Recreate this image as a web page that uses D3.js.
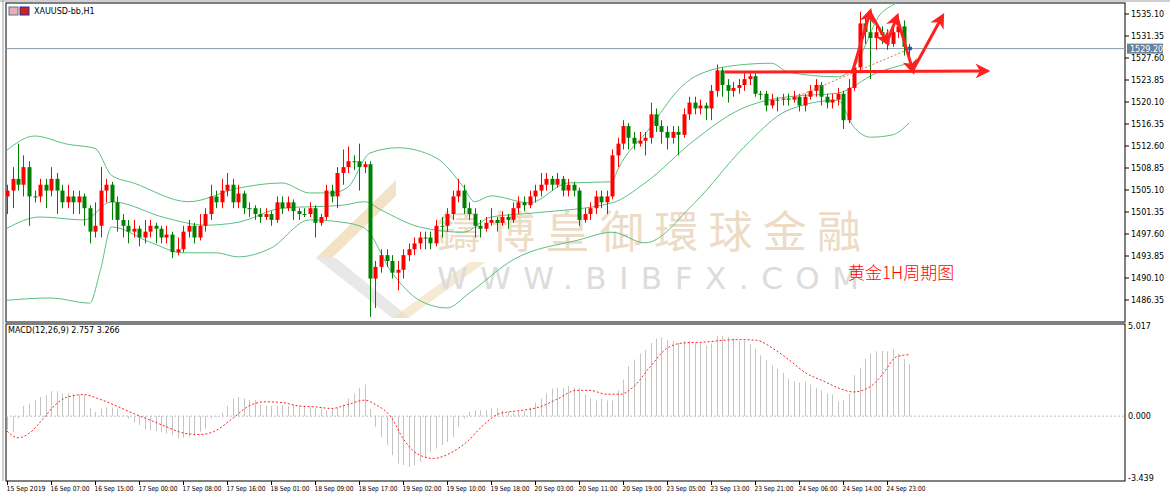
<!DOCTYPE html>
<html>
<head>
<meta charset="utf-8">
<script src="https://cdn.jsdelivr.net/npm/d3@7"></script>
<style>
  body { margin: 0; background: #fff; }
  svg { display: block; font-family: Tahoma, "DejaVu Sans", sans-serif; }
</style>
</head>
<body>
<div id="chart"></div>
<script>
// OHLC per H1 bar: [open, high, low, close]
const candles = [
  [1504,1506,1501,1505],[1505,1509,1502,1507],[1507,1513,1505,1506],[1506,1511,1504,1509],[1509,1510,1499,1504],
  [1504,1505,1503,1504],[1504,1507,1503,1506],[1506,1507,1502,1505],[1505,1509,1504,1507],[1507,1508,1501,1505],
  [1505,1506,1502,1503],[1503,1506,1502,1504],[1504,1505,1501,1503],[1503,1505,1501,1504],[1504,1504.5,1499,1502],
  [1502,1502.5,1496,1498],[1498,1503,1497,1499],[1499,1509,1497,1505],[1505,1507,1503,1506],[1506,1506.5,1500,1503],
  [1503,1504,1498,1500],[1500,1501,1497,1499],[1499,1500,1496,1498],[1498,1500,1497,1498.5],[1498.5,1499,1495.5,1497],
  [1497,1500,1496,1498],[1498,1500,1497,1499],[1499,1499.5,1496,1498.5],[1498.5,1499,1496,1497],[1497,1499,1496,1497.5],
  [1497.5,1498,1493.5,1494.5],[1494.5,1497,1494,1495],[1495,1499,1494.5,1498],[1498,1500,1497,1499],[1499,1499.5,1496,1497],
  [1497,1501,1496.5,1499],[1499,1502,1498,1501],[1501,1506,1500,1504],[1504,1505,1502,1503],[1503,1507,1502,1505],
  [1505,1508,1504,1506],[1506,1507,1502,1503],[1503,1506,1502,1504.5],[1504.5,1505,1501,1502],[1502,1503,1500.5,1502],
  [1502,1502.5,1500,1501],[1501,1502,1499.5,1500.5],[1500.5,1502,1500,1501],[1501,1501.5,1499,1500],[1500,1504,1499.5,1503],
  [1503,1504,1501,1502],[1502,1504,1501.5,1503],[1503,1503.5,1500,1501.5],[1501.5,1502,1500,1501],[1501,1502,1500.5,1501],
  [1501,1503,1500.5,1502],[1502,1502.5,1497,1499.5],[1499.5,1501,1499,1500.5],[1500.5,1506,1500,1505],[1505,1506,1503,1504],
  [1504,1509,1502,1508],[1508,1512,1506,1509],[1509,1512.5,1508,1510],[1510,1511,1508.5,1510],[1510,1513,1505,1509],
  [1509,1510,1508,1509.5],[1509.5,1510,1483.5,1490],[1490,1493,1485,1492],[1492,1495,1491,1494],[1494,1495,1492,1493],
  [1493,1494,1490,1491],[1491,1493,1488,1491.5],[1491.5,1495,1490,1494],[1494,1496,1493,1495],[1495,1497,1494,1496],
  [1496,1498,1495,1497],[1497,1498,1495,1497],[1497,1498,1495,1496],[1496,1500,1495.5,1499],[1499,1500.5,1497,1499],
  [1499,1502,1498,1501],[1501,1505,1500,1504],[1504,1507,1503,1505],[1505,1506,1501,1502],[1502,1503,1500,1501],
  [1501,1502,1497,1499],[1499,1500,1497,1498.5],[1498.5,1500.5,1498,1499.5],[1499.5,1502,1499,1500],[1500,1500.5,1498,1499.5],
  [1499.5,1501.5,1499,1500.5],[1500.5,1501,1498.5,1500],[1500,1503,1499.5,1502],[1502,1504,1501,1503],[1503,1504,1501.5,1502.5],
  [1502.5,1505,1502,1504],[1504,1506,1503,1505],[1505,1508,1504,1506],[1506,1508,1505,1507],[1507,1507.5,1505,1506],
  [1506,1508,1505.5,1507],[1507,1507.5,1504,1505],[1505,1507,1504,1506],[1506,1506.5,1504,1505],[1505,1505.5,1499,1500],
  [1500,1502,1499.5,1501],[1501,1503,1500,1502],[1502,1505,1501,1504],[1504,1505,1502,1503],[1503,1505,1501,1504],
  [1504,1512,1503.5,1511],[1511,1514,1509,1513],[1513,1517,1512,1516],[1516,1516.5,1512,1514],[1514,1515,1512,1513],
  [1513,1515,1512.5,1513.5],[1513.5,1515,1511,1514],[1514,1520,1513,1518],[1518,1519,1515,1516],[1516,1517,1513,1515],
  [1515,1516,1512,1514],[1514,1516,1513,1515],[1515,1516,1511,1514.5],[1514.5,1519,1514,1518],[1518,1521,1517,1520],
  [1520,1521,1518,1519],[1519,1520.5,1518,1519.5],[1519.5,1520,1517,1519],[1519,1523,1517,1522],[1522,1526.5,1521,1525.5],
  [1525.5,1526,1521,1523],[1523,1524,1520,1522],[1522,1523.5,1521,1522.5],[1522.5,1524,1521.5,1523],[1523,1525,1522,1524],
  [1524,1525,1523,1524.5],[1524.5,1525,1521,1521.5],[1521.5,1522,1520.5,1521.5],[1521.5,1522,1518.5,1519.5],[1519.5,1521.5,1519,1520.5],
  [1520.5,1521,1518.5,1520.5],[1520.5,1521.5,1519.5,1520.7],[1520.7,1521.5,1519.5,1520.5],[1520.5,1522,1520,1521],[1521,1521.5,1518.5,1519.5],
  [1519.5,1521.5,1518.5,1521],[1521,1523,1520.5,1522],[1522,1524,1521,1523],[1523,1523.5,1519.5,1521],[1521,1521.5,1519,1520],
  [1520,1521.5,1519,1520.5],[1520.5,1522.5,1519.5,1521.5],[1521.5,1522,1515.5,1517],[1517,1524,1516.5,1522.5],[1522.5,1527,1522,1526],
  [1526,1535.5,1525,1533.5],[1533.5,1535,1530,1532],[1532,1534,1524,1531],[1531,1533.5,1529,1532],[1532,1533,1530,1531.5],
  [1531.5,1532.5,1529,1530],[1530,1533,1529.5,1532],[1532,1534.5,1531,1533],[1533,1534,1528,1529.5],[1529.5,1530,1528,1529.2]
];

// Bollinger bands: [bar, price]
const bandUpper = [[0,1511.9],[5,1514.3],[11,1512.9],[16,1512.2],[19,1507.6],[23,1506.3],[33,1503.1],[42,1505.4],
  [50,1506.3],[55,1504.6],[59,1504.6],[62,1505.6],[66,1511.4],[71,1512.3],[78,1510.6],[83,1505.6],[85,1503.1],
  [88,1504.1],[95,1502.9],[102,1506.3],[110,1506.5],[111,1508.5],[117,1515.8],[122,1522.1],[125,1524.4],
  [133,1526.4],[139,1526.7],[142,1525.2],[151,1524.4],[154,1526.1],[159,1535.3],[161,1536.6],[164,1538]];
const bandMiddle = [[0,1498.6],[6,1500.5],[14,1500.0],[19,1503.1],[29,1500.3],[36,1499.1],[42,1499.6],[50,1502.0],
  [61,1502.5],[65,1503.1],[68,1501.7],[75,1498.8],[83,1497.9],[88,1500.5],[96,1501.2],[110,1502.9],[116,1506.3],
  [125,1513.6],[133,1518.7],[142,1521.0],[151,1521.6],[158,1525.0],[164,1526.7]];
const bandLower = [[0,1486.3],[8,1486.7],[15,1485.8],[17,1491.5],[19,1498.8],[26,1496.2],[32,1494.4],[38,1494.4],
  [42,1493.7],[48,1495.2],[55,1500.0],[61,1499.6],[65,1498.6],[70,1491.0],[75,1486.3],[80,1485.0],[84,1487.5],
  [92,1493.2],[104,1496.6],[110,1497.9],[116,1496.1],[125,1502.9],[134,1512.4],[142,1518.7],[151,1520.4],
  [154,1515.8],[157,1514.1],[161,1514.5],[164,1516.5]];

// MACD main (histogram), one per bar
const macdMain = [-0.75,
  -0.87,-0.13,0.57,0.7,0.9,1.07,1.17,1.39,1.39,1.26,1.26,1.2,1.2,1.17,0.46,0.24,0.43,0.48,0.48,0.39,
  0.06,-0.13,-0.35,-0.5,-0.72,-0.78,-0.83,-0.87,-0.96,-1.06,-1.24,-1.2,-1.15,-1.06,-0.87,-0.69,-0.13,-0.04,0.2,0.57,
  0.98,1.07,0.98,0.9,0.9,0.65,0.57,0.57,0.57,0.61,0.57,0.61,0.57,0.57,0.52,0.43,0.43,0.33,0.39,0.46,
  0.65,0.98,1.26,1.57,1.76,0.39,-0.59,-1.15,-1.61,-2.17,-2.63,-2.72,-2.81,-2.72,-2.54,-2.31,-1.98,-1.8,-1.61,-1.43,
  -1.15,-0.59,-0.13,0.24,0.33,0.33,0.33,0.43,0.43,
  0.3,0.24,0.19,0.24,0.3,0.48,0.76,0.98,1.26,1.54,1.59,1.57,1.69,1.59,1.57,1.2,0.98,0.87,0.98,0.87,
  0.87,1.44,2.04,2.78,3.15,3.48,3.67,4.07,4.31,4.37,4.26,4.19,4.07,4.19,4.19,4.07,4.07,3.94,4.04,4.48,
  4.48,4.41,4.33,4.19,4.19,4.0,3.76,3.39,3.11,2.81,2.65,2.41,2.09,1.94,1.87,1.91,1.76,1.57,1.44,1.26,
  1.2,0.81,0.89,1.26,2.28,2.7,3.2,3.48,3.61,3.63,3.61,3.72,3.48,3.17,2.89];
// MACD signal, sampled [bar, value]
const macdSignal = [[0,-0.83],[2,-1.2],[4,-0.96],[6.6,-0.13],[8.7,0.61],[10.8,1.04],[13.9,1.2],[16.9,0.94],
  [19.9,0.57],[23,0.15],[26,-0.22],[29,-0.59],[32,-0.93],[35,-1.02],[37.5,-0.87],[41,-0.13],[44,0.57],[47,0.8],
  [50,0.76],[53,0.57],[56,0.52],[59,0.43],[62,0.65],[65,0.89],[67,0.65],[70,-0.13],[72,-1.24],[74.5,-2.07],
  [77.5,-2.35],[80.5,-2.07],[83.6,-1.43],[86.6,-0.5],[89.6,0.15],[93.8,0.33],[96.9,0.52],[99.9,0.93],
  [103.6,1.44],[106,1.44],[109,1.22],[111.5,1.22],[113.9,1.63],[116.9,2.74],[119.9,3.76],[122.9,4.07],
  [127.2,4.13],[130.2,4.22],[133.3,4.26],[136.3,4.22],[139.3,3.76],[142.3,3.11],[145.4,2.37],[148.4,1.96],
  [151.4,1.54],[153.9,1.35],[156.9,1.63],[159.3,2.37],[161.7,3.3],[164.2,3.43]];

const priceTicks = [1535.10,1531.35,1527.60,1523.85,1520.10,1516.35,1512.60,1508.85,1505.10,1501.35,1497.60,1493.85,1490.10,1486.35];
const timeLabels = ['15 Sep 2019','16 Sep 07:00','16 Sep 15:00','17 Sep 00:00','17 Sep 08:00','17 Sep 16:00','18 Sep 01:00',
  '18 Sep 09:00','18 Sep 17:00','19 Sep 02:00','19 Sep 10:00','19 Sep 18:00','20 Sep 03:00','20 Sep 11:00','20 Sep 19:00',
  '23 Sep 05:00','23 Sep 13:00','23 Sep 21:00','24 Sep 06:00','24 Sep 14:00','24 Sep 23:00'];
const lastPrice = 1529.20;

// Annotation drawn on the chart, in [bar, price]
const hArrow = [[130.5,1525.2],[178,1525.4]];
const zigzag = [[153.8,1525.5],[156.9,1535.4],[160,1530.3],[161.8,1534.6],[164.7,1525.5],[170,1534.6]];
const trendLine = [[143.3,1520.9],[164.2,1529.2]];

const W = 1170, H = 493,
    left = 6, right = 1125,
    mainTop = 3, mainBottom = 322,
    macdTop = 323, macdBottom = 481;

const x = d3.scaleLinear().domain([0, 164]).range([7, 909]),
    y = d3.scaleLinear().domain([1486.35, 1535.10]).range([300, 14]),
    ym = d3.scaleLinear().domain([-3.439, 5.017]).range([478, 326]);

const svg = d3.select('#chart').append('svg').attr('width', W).attr('height', H);

svg.append('defs').append('clipPath').attr('id', 'clipMain')
    .append('rect').attr('x', left).attr('y', mainTop).attr('width', right - left).attr('height', mainBottom - mainTop);
const mk = svg.select('defs').append('marker').attr('id', 'arr').attr('viewBox', '0 0 10 10')
    .attr('refX', 7).attr('refY', 5).attr('markerWidth', 5).attr('markerHeight', 5).attr('orient', 'auto')
    .attr('markerUnits', 'strokeWidth');
mk.append('path').attr('d', 'M0,0 L10,5 L0,10 L3,5 Z').attr('fill', '#ff2020');

// frames
svg.append('line').attr('x1', 0).attr('x2', W).attr('y1', 1).attr('y2', 1).attr('stroke', '#a0a0a0');
svg.append('line').attr('x1', 3).attr('x2', 3).attr('y1', 0).attr('y2', macdBottom).attr('stroke', '#a0a0a0');
svg.append('rect').attr('x', left).attr('y', mainTop).attr('width', right - left).attr('height', mainBottom - mainTop)
    .attr('fill', 'none').attr('stroke', '#000');
svg.append('rect').attr('x', left).attr('y', macdTop + 1).attr('width', right - left).attr('height', macdBottom - macdTop - 1)
    .attr('fill', 'none').attr('stroke', '#000');
svg.append('line').attr('x1', left).attr('x2', right).attr('y1', mainBottom + 0.5).attr('y2', mainBottom + 0.5)
    .attr('stroke', '#808080').attr('stroke-width', 2);

// watermark
const wm = svg.append('g');
wm.append('polygon').attr('points', '316,258 396,180 396,196 332,258').attr('fill', '#f0dcb8').attr('opacity', 0.8);
wm.append('polygon').attr('points', '316,258 336,258 410,318 392,318').attr('fill', '#e6e6e6').attr('opacity', 0.9);
wm.append('polygon').attr('points', '392,318 470,262 486,262 408,318').attr('fill', '#f0dcb8').attr('opacity', 0.6);
wm.append('text').attr('x', 437).attr('y', 248).attr('textLength', 424).attr('font-size', 44)
    .attr('font-family', '"Noto Sans CJK TC", sans-serif').attr('fill', '#eddcc5').text('鑄博皇御環球金融');
wm.append('text').attr('x', 437).attr('y', 289).attr('textLength', 422).attr('font-size', 31)
    .attr('font-family', '"DejaVu Sans", sans-serif').attr('fill', '#dcdcdc').text('WWW.BIBFX.COM');

// current price line
svg.append('line').attr('x1', left).attr('x2', right).attr('y1', y(lastPrice)).attr('y2', y(lastPrice))
    .attr('stroke', '#8899aa');

const main = svg.append('g').attr('clip-path', 'url(#clipMain)');

// bands
const bandLine = d3.line().x(d => x(d[0])).y(d => y(d[1])).curve(d3.curveMonotoneX);
[bandUpper, bandMiddle, bandLower].forEach(b => {
    main.append('path').attr('d', bandLine(b)).attr('fill', 'none').attr('stroke', '#5cbf80').attr('stroke-width', 1);
});

// candles
const cg = main.append('g');
candles.forEach((c, i) => {
    const [o, h, l, cl] = c,
        col = cl > o ? '#ff0000' : '#008000',
        cx = Math.round(x(i)) + 0.5;
    cg.append('line').attr('x1', cx).attr('x2', cx).attr('y1', y(h)).attr('y2', y(l)).attr('stroke', col);
    const top = y(Math.max(o, cl)), bot = y(Math.min(o, cl));
    cg.append('rect').attr('x', cx - 2).attr('y', top).attr('width', 4).attr('height', Math.max(1, bot - top)).attr('fill', col);
});

// annotations
const pt = d => [x(d[0]), y(d[1])];
main.append('line').attr('x1', pt(trendLine[0])[0]).attr('y1', pt(trendLine[0])[1])
    .attr('x2', pt(trendLine[1])[0]).attr('y2', pt(trendLine[1])[1])
    .attr('stroke', '#ff6040').attr('stroke-dasharray', '2,2');
main.append('circle').attr('cx', pt(trendLine[1])[0]).attr('cy', pt(trendLine[1])[1]).attr('r', 2).attr('fill', '#2050c0');
main.append('line').attr('x1', pt(hArrow[0])[0]).attr('y1', pt(hArrow[0])[1])
    .attr('x2', pt(hArrow[1])[0]).attr('y2', pt(hArrow[1])[1])
    .attr('stroke', '#ff2020').attr('stroke-width', 3).attr('marker-end', 'url(#arr)');
for (let k = 0; k < zigzag.length - 1; k++) {
    const a = pt(zigzag[k]), b = pt(zigzag[k + 1]);
    main.append('line').attr('x1', a[0]).attr('y1', a[1]).attr('x2', b[0]).attr('y2', b[1])
        .attr('stroke', '#ff2020').attr('stroke-width', 3).attr('stroke-linecap', 'round')
        .attr('marker-end', 'url(#arr)');
}

// right price axis
priceTicks.forEach(p => {
    svg.append('line').attr('x1', right).attr('x2', right + 4).attr('y1', y(p)).attr('y2', y(p)).attr('stroke', '#000');
    svg.append('text').attr('x', right + 6).attr('y', y(p) + 3).attr('font-size', 8).attr('fill', '#000').text(p.toFixed(2));
});
svg.append('rect').attr('x', right + 2).attr('y', y(lastPrice) - 5).attr('width', 36).attr('height', 10).attr('fill', '#6a829c');
svg.append('text').attr('x', right + 5).attr('y', y(lastPrice) + 3).attr('font-size', 8).attr('fill', '#fff').text(lastPrice.toFixed(2));

// title
svg.append('rect').attr('x', 9).attr('y', 7).attr('width', 9).attr('height', 8).attr('fill', '#e8b0b0').attr('stroke', '#6070a0');
svg.append('rect').attr('x', 20).attr('y', 7).attr('width', 9).attr('height', 8).attr('fill', '#d02020').attr('stroke', '#2030a0');
svg.append('text').attr('x', 34).attr('y', 14).attr('font-size', 8).text('XAUUSD-bb,H1');
svg.append('text').attr('x', 848).attr('y', 279).attr('font-size', 17).attr('fill', '#ff0000')
    .attr('font-family', '"Noto Sans CJK SC", sans-serif').attr('font-weight', 300).text('黄金1H周期图');

// MACD panel
svg.append('line').attr('x1', left).attr('x2', right).attr('y1', ym(0)).attr('y2', ym(0))
    .attr('stroke', '#b8c0cc').attr('stroke-dasharray', '2,2');
svg.append('g').selectAll('line').data(macdMain).enter().append('line')
    .attr('x1', (d, i) => Math.round(x(i)) + 0.5).attr('x2', (d, i) => Math.round(x(i)) + 0.5)
    .attr('y1', ym(0)).attr('y2', d => ym(d)).attr('stroke', '#c4c4c4');
svg.append('path').attr('d', d3.line().x(d => x(d[0])).y(d => ym(d[1])).curve(d3.curveMonotoneX)(macdSignal))
    .attr('fill', 'none').attr('stroke', '#ff2020').attr('stroke-dasharray', '2,2');
svg.append('text').attr('x', 8).attr('y', 333).attr('font-size', 8).text('MACD(12,26,9) 2.757 3.266');
[[5.017, 329], [0, ym(0) + 3], [-3.439, 481]].forEach(([v, yy]) => {
    svg.append('text').attr('x', right + 3).attr('y', yy).attr('font-size', 8).text(v.toFixed(3));
});

// time axis
timeLabels.forEach((t, k) => {
    const tx = Math.round(x(k * 8)) + 0.5;
    svg.append('line').attr('x1', tx).attr('x2', tx).attr('y1', macdBottom).attr('y2', macdBottom + 4).attr('stroke', '#000');
    svg.append('text').attr('x', tx - 1).attr('y', 491).attr('font-size', 7)
        .attr('textLength', 39).attr('lengthAdjust', 'spacingAndGlyphs').text(t);
});
</script>
</body>
</html>
